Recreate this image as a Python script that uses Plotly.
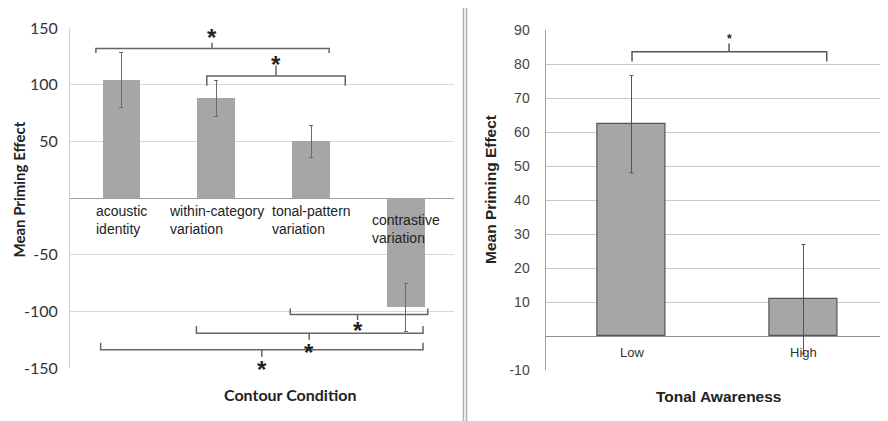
import plotly.graph_objects as go

# ---------------- data ----------------
contour_categories = ["acoustic<br>identity", "within-category<br>variation",
                      "tonal-pattern<br>variation", "contrastive<br>variation"]
contour_means = [104, 88, 50, -96.5]
contour_errors = [24, 16, 14, 21.5]
contour_ticks = [-150, -100, -50, 50, 100, 150]
contour_ticktext = ["-150", "-100", "-50", "50", "100", "150"]

awareness_categories = ["Low", "High"]
awareness_means = [62.3, 10.9]
awareness_errors = [14.3, 16]
awareness_ticks = [-10, 10, 20, 30, 40, 50, 60, 70, 80, 90]
awareness_ticktext = ["-10", "10", "20", "30", "40", "50", "60", "70", "80", "90"]

# significance brackets: (x0, x1, y, y_end, x_center, y_tip, y_star)
contour_brackets = [
    (-0.27, 2.19, 132, 128, 0.955, 137, 147),
    (0.90, 2.36, 107.7, 99, 1.63, 117, 122.7),
    (1.78, 3.23, -102.7, -97.4, 2.49, -107.7, -112),
    (0.79, 3.18, -119.4, -113, 1.98, -125, -131),
    (-0.22, 3.18, -134, -127.7, 1.48, -140, -145.6),
]
awareness_brackets = [
    (0.003, 1.135, 83.6, 80.7, 0.567, 86, 88.2),
]

W, H = 888, 421
OFF = 8  # page body margin


def px(x):
    return (x - OFF) / W


def py(y):
    return 1 - (y - OFF) / H


fig = go.Figure()

fig.add_trace(go.Bar(
    x=list(range(len(contour_means))), y=contour_means, width=0.4,
    marker=dict(color="#a6a6a6", line=dict(width=0)),
    error_y=dict(type="data", array=contour_errors, color="#6a6a6a", thickness=1, width=2),
    xaxis="x", yaxis="y", showlegend=False, hoverinfo="skip"))

fig.add_trace(go.Bar(
    x=list(range(len(awareness_means))), y=awareness_means, width=0.4,
    marker=dict(color="#a6a6a6", line=dict(width=1.2, color="#555555")),
    error_y=dict(type="data", array=awareness_errors, color="#555555", thickness=1, width=2),
    xaxis="x2", yaxis="y2", showlegend=False, hoverinfo="skip"))

shapes = []
annotations = []


def add_brackets(brs, xref, yref, size, yshift, color):
    for (x0, x1, y, ye, xc, yt, ys) in brs:
        path = (f"M {x0},{ye} L {x0},{y} L {x1},{y} L {x1},{ye} "
                f"M {xc},{y} L {xc},{yt}")
        shapes.append(dict(type="path", path=path, xref=xref, yref=yref,
                           line=dict(color=color, width=1.5)))
        annotations.append(dict(x=xc, y=ys, xref=xref, yref=yref, text="<b>*</b>",
                                showarrow=False, yanchor="middle", yshift=yshift,
                                font=dict(family="Liberation Sans, Arial", size=size, color="#222")))


add_brackets(contour_brackets, "x", "y", 24, -6, "#666666")
add_brackets(awareness_brackets, "x2", "y2", 12, -3, "#555555")

# category labels at the zero line (left panel)
for i, lab in enumerate(contour_categories):
    annotations.append(dict(x=i, y=0, xref="x", yref="y", text=lab, showarrow=False,
                            xanchor="center", yanchor="top", align="left",
                            yshift=-12 if contour_means[i] < 0 else -3,
                            font=dict(family="Liberation Sans, Arial", size=14, color="#222")))

# category labels (right panel)
for i, lab in enumerate(awareness_categories):
    annotations.append(dict(x=i, y=0, xref="x2", yref="y2", text=lab, showarrow=False,
                            xanchor="center", yanchor="top", yshift=-7,
                            font=dict(family="Liberation Sans, Arial", size=13, color="#333")))

# axis titles
annotations += [
    dict(x=px(18.5), y=py(190), xref="paper", yref="paper", text="<b>Mean Priming Effect</b>",
         textangle=-90, showarrow=False, xanchor="center", yanchor="middle",
         font=dict(family="Lato", size=15, color="#222")),
    dict(x=px(289.5), y=py(394), xref="paper", yref="paper", text="<b>Contour Condition</b>",
         showarrow=False, xanchor="center", yanchor="middle",
         font=dict(family="Lato", size=16, color="#222")),
    dict(x=px(490), y=py(190), xref="paper", yref="paper", text="<b>Mean Priming Effect</b>",
         textangle=-90, showarrow=False, xanchor="center", yanchor="middle",
         font=dict(family="Liberation Sans, Arial", size=15.5, color="#222")),
    dict(x=px(718), y=py(396), xref="paper", yref="paper", text="<b>Tonal Awareness</b>",
         showarrow=False, xanchor="center", yanchor="middle",
         font=dict(family="Liberation Sans, Arial", size=15.5, color="#222")),
]

# double divider line
for xx in (463.5, 466.5):
    shapes.append(dict(type="line", xref="paper", yref="paper", x0=px(xx), x1=px(xx),
                       y0=0, y1=py(5), line=dict(color="#b0b0b0", width=1.5)))

fig.update_layout(
    width=W, height=H, margin=dict(l=0, r=0, t=0, b=0, autoexpand=False),
    paper_bgcolor="white", plot_bgcolor="white",
    bargap=0, shapes=shapes, annotations=annotations,
    xaxis=dict(domain=[px(70), px(454)], range=[-0.543, 3.507], showticklabels=False,
               showgrid=False, zeroline=False, showline=False, automargin=False),
    yaxis=dict(domain=[py(368), py(28)], range=[-150, 150], tickvals=contour_ticks,
               ticktext=contour_ticktext, automargin=False,
               showgrid=True, gridcolor="#d9d9d9", gridwidth=1,
               zeroline=True, zerolinecolor="#a0a0a0", zerolinewidth=1,
               showline=True, linecolor="#d0d0d0", ticks="", ticklabelstandoff=8,
               tickfont=dict(family="Lato", size=16, color="#333")),
    xaxis2=dict(domain=[px(545.5), px(889.5)], range=[-0.5, 1.5], showticklabels=False,
                showgrid=False, zeroline=False, showline=False, anchor="y2", automargin=False),
    yaxis2=dict(domain=[py(370), py(30)], range=[-10, 90], tickvals=awareness_ticks,
                ticktext=awareness_ticktext, anchor="x2", automargin=False,
                showgrid=True, gridcolor="#c8c8c8", gridwidth=1,
                zeroline=True, zerolinecolor="#909090", zerolinewidth=1,
                showline=True, linecolor="#a0a0a0", ticks="", ticklabelstandoff=12,
                tickfont=dict(family="Liberation Sans, Arial", size=14, color="#444")),
)

fig.write_html("out.html")
